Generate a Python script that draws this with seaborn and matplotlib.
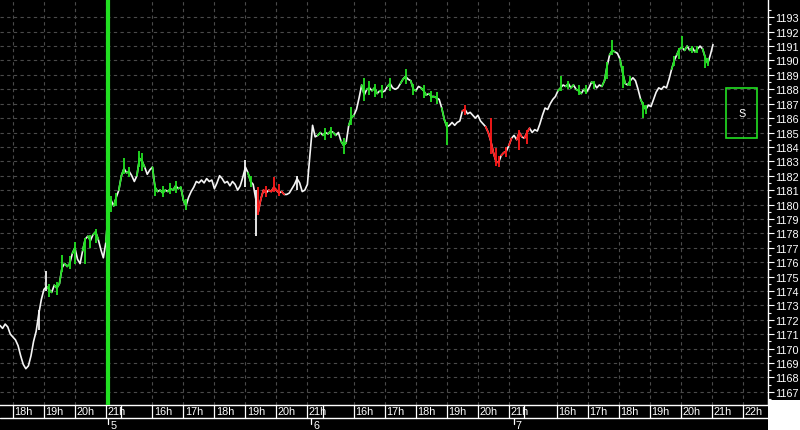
import numpy as np
import pandas as pd
import seaborn as sns
import matplotlib.pyplot as plt
from matplotlib.patches import Rectangle

# closing prices per 5-minute bar, one list per session
day4_close = [1171.6, 1171.4, 1171.7, 1171.5, 1171.0, 1170.8, 1170.6, 1170.2, 1169.5, 1168.9,
              1168.6, 1168.8, 1169.5, 1170.5, 1171.2, 1172.4, 1173.4, 1174.1, 1174.3, 1174.1,
              1173.9, 1174.4, 1174.2, 1174.5, 1175.6, 1175.9, 1175.7, 1175.9, 1176.6, 1177.0,
              1176.2, 1175.9, 1176.8, 1177.6, 1177.8, 1177.5, 1177.9, 1178.1, 1177.6, 1176.9,
              1176.3, 1177.4]
day5_close = [1179.8, 1180.3, 1179.9, 1180.5, 1181.0, 1182.0, 1182.5, 1182.2, 1182.3, 1182.0,
              1181.6, 1182.0, 1183.2, 1183.0, 1182.6, 1182.1, 1182.4, 1182.6, 1181.2, 1180.9,
              1181.0, 1180.8, 1181.0, 1180.9, 1181.1, 1181.0, 1181.3, 1181.1, 1181.2, 1180.3,
              1179.9, 1180.5, 1180.9, 1181.2, 1181.6, 1181.5, 1181.7, 1181.5, 1181.8, 1181.6,
              1181.7, 1181.1, 1181.5, 1182.0, 1181.8, 1181.5, 1181.6, 1181.3, 1181.6, 1181.4,
              1181.0, 1181.3, 1181.9, 1182.6, 1182.2, 1181.6, 1181.4, 1180.4, 1179.5, 1180.4,
              1181.0, 1180.8, 1181.0, 1180.9, 1181.2, 1181.0, 1180.8, 1180.9, 1180.7, 1180.7,
              1180.8, 1181.1, 1181.4, 1181.8, 1181.5, 1180.9, 1181.0, 1181.4]
day6_close = [1183.5, 1185.5, 1184.7, 1184.8, 1185.0, 1184.8, 1185.0, 1184.9, 1185.1, 1185.0,
              1184.8, 1185.0, 1184.4, 1184.1, 1184.3, 1185.5, 1186.0, 1186.2, 1186.6, 1187.4,
              1188.3, 1187.6, 1188.0, 1188.1, 1187.9, 1188.1, 1187.7, 1187.9, 1187.8, 1187.9,
              1188.2, 1188.4, 1188.1, 1188.0, 1188.1, 1188.4, 1188.7, 1188.9, 1188.7, 1188.6,
              1188.0, 1187.9, 1188.2, 1188.1, 1187.9, 1187.6, 1187.7, 1187.5, 1187.5, 1187.4,
              1187.3, 1186.7, 1185.9, 1185.4, 1185.5, 1185.7, 1185.5, 1185.7, 1185.8, 1186.5,
              1186.6, 1186.3, 1186.4, 1186.2, 1186.0, 1186.2, 1185.8, 1185.6, 1185.4, 1185.0,
              1184.4, 1183.6, 1183.0, 1182.9, 1183.4, 1183.6, 1183.7, 1184.1]
day7_close = [1184.6, 1184.8, 1184.5, 1185.0, 1184.7, 1184.6, 1185.0, 1185.3, 1185.0, 1185.2,
              1185.1, 1185.6, 1186.2, 1186.7, 1186.6, 1187.0, 1187.3, 1187.5, 1187.9, 1188.1,
              1188.3, 1188.2, 1188.4, 1188.1, 1188.3, 1188.0, 1187.9, 1187.7, 1188.0, 1187.8,
              1188.1, 1188.5, 1188.4, 1188.1, 1188.3, 1188.2, 1188.6, 1189.6, 1190.4, 1190.7,
              1190.6, 1190.5, 1190.1, 1189.2, 1188.4, 1188.3, 1188.6, 1188.8, 1188.6, 1188.0,
              1187.3, 1186.9, 1186.6, 1186.9, 1186.8, 1187.3, 1187.8, 1188.1, 1188.0, 1188.2,
              1188.1, 1188.7, 1189.4, 1190.0, 1190.4, 1190.8, 1190.9, 1190.7, 1191.0, 1190.7,
              1190.9, 1190.6, 1190.8, 1191.0, 1190.8, 1190.2, 1189.8, 1190.4, 1191.1]

# bars flagged by the indicator
green_bars = [19, 20, 22, 23, 24, 26, 27, 29, 33, 35, 37, 38,
              42, 43, 45, 47, 48, 50, 54, 55, 56, 60, 61, 63, 64, 66, 67, 68, 70, 71, 72, 97,
              124, 126, 128, 130, 133, 134, 136, 137, 141, 143, 145, 146, 148, 151, 156, 157,
              160, 161, 164, 165, 167, 168, 169, 172, 173,
              217, 220, 222, 224, 225, 227, 230, 234, 235, 237, 238, 241, 242, 244, 249, 250,
              261, 263, 264, 266, 268, 270, 273, 274]
red_bars = [100, 101, 102, 103, 105, 106, 107, 108, 110,
            180, 189, 190, 191, 192, 193, 195, 196, 198, 201, 202, 204, 205]

# high/low range of the visible spikes
spike_bar = [15, 18, 19, 22, 24, 27, 29, 33, 35, 37,
             43, 45, 48, 50, 54, 55, 60, 63, 66, 68, 72, 95, 97, 99, 100, 103, 106, 108, 115,
             126, 128, 133, 136, 141, 143, 145, 148, 151, 157, 160, 164, 167, 169, 173,
             180, 190, 192, 193, 196, 201, 204,
             217, 220, 224, 227, 230, 235, 237, 241, 244, 249, 250, 261, 263, 264, 268, 270, 273, 274]
spike_lo = [1171.3, 1174.0, 1173.6, 1173.7, 1175.3, 1175.5, 1175.9, 1175.9, 1177.0, 1177.3,
            1179.5, 1179.9, 1182.1, 1181.9, 1182.6, 1182.3, 1180.6, 1180.5, 1180.7, 1180.8, 1179.6,
            1181.2, 1181.2, 1177.8, 1179.3, 1180.5, 1180.9, 1180.6, 1181.0,
            1184.5, 1184.6, 1183.5, 1185.5, 1187.2, 1187.6, 1187.5, 1187.4, 1187.9, 1188.4, 1187.6,
            1187.4, 1187.1, 1187.0, 1184.1,
            1186.2, 1183.5, 1182.7, 1182.6, 1183.3, 1183.8, 1184.2,
            1187.9, 1188.0, 1187.6, 1187.7, 1188.0, 1188.7, 1190.4, 1188.1, 1188.2, 1186.0, 1186.3,
            1189.6, 1190.1, 1190.8, 1190.5, 1190.5, 1189.5, 1189.6]
spike_hi = [1172.7, 1175.4, 1174.5, 1174.6, 1176.5, 1176.4, 1177.4, 1177.7, 1177.9, 1178.3,
            1180.6, 1180.8, 1183.2, 1182.6, 1183.7, 1183.6, 1181.4, 1181.3, 1181.5, 1181.6, 1180.4,
            1183.1, 1182.0, 1181.0, 1181.2, 1181.3, 1181.9, 1181.4, 1182.0,
            1185.3, 1185.4, 1184.6, 1186.8, 1188.8, 1188.6, 1188.4, 1188.3, 1188.8, 1189.4, 1188.4,
            1188.3, 1187.9, 1187.8, 1185.7,
            1186.9, 1186.0, 1183.9, 1183.4, 1184.0, 1185.2, 1185.2,
            1188.9, 1188.6, 1188.3, 1188.3, 1188.6, 1189.9, 1191.4, 1189.6, 1188.9, 1187.1, 1186.9,
            1190.3, 1190.9, 1191.7, 1191.0, 1191.0, 1190.4, 1190.2]

# time axis (bar index of each hour mark)
hour_ticks = [5, 17, 29, 41, 59, 71, 83, 95, 107, 119, 137, 149, 161, 173, 185, 197,
              215.5, 227.5, 239.5, 251.5, 263.5, 275.5, 287.5]
hour_labels = ['18h', '19h', '20h', '21h', '16h', '17h', '18h', '19h', '20h', '21h',
               '16h', '17h', '18h', '19h', '20h', '21h', '16h', '17h', '18h', '19h', '20h', '21h', '22h']
day_ticks = [42, 120.5, 199]
day_labels = ['5', '6', '7']
signal_bar = 42

GREEN = '#22e022'
RED = '#ff1a1a'
WHITE = '#f4f4f4'
pal = {'g': GREEN, 'r': RED, 'w': WHITE}
FS = 7.8

close = day4_close + day5_close + day6_close + day7_close
bars = np.arange(len(close))
df = pd.DataFrame({'bar': bars, 'price': close})

def bar_color(b):
    if b in green_bars:
        return 'g'
    if b in red_bars:
        return 'r'
    return 'w'

# colored segments ending on a flagged bar
rows = []
for b in green_bars + red_bars:
    for k in (b - 1, b):
        rows.append({'seg': b, 'bar': k, 'price': close[k], 'color': bar_color(b)})
seg_df = pd.DataFrame(rows)

sns.set_style('dark')
plt.rcParams['font.family'] = ['Liberation Sans', 'DejaVu Sans']

fig = plt.figure(figsize=(8, 4.31), dpi=100, facecolor='black')
ax = fig.add_axes([0, 25 / 431, 768 / 800, 406 / 431])
ax.set_facecolor('black')

ax.set_xlim(0, 297.3)
ax.set_ylim(1166.08, 1194.27)

# grid
ax.set_yticks(np.arange(1167, 1194))
ax.set_yticks(np.arange(1166.5, 1194.5, 1), minor=True)
ax.set_xticks(hour_ticks)
ax.grid(True, axis='both', which='major', color='#4a4a4a', linestyle=(0, (3, 3)), linewidth=0.8)
ax.set_axisbelow(True)

sns.lineplot(data=df, x='bar', y='price', color=WHITE, lw=1.2, ax=ax, legend=False)
sns.lineplot(data=seg_df, x='bar', y='price', units='seg', hue='color', palette=pal,
             estimator=None, sort=False, lw=1.2, ax=ax, legend=False)
ax.vlines(spike_bar, spike_lo, spike_hi, colors=[pal[bar_color(b)] for b in spike_bar], lw=1.3)

ax.axvline(signal_bar, color=GREEN, lw=3, zorder=5)

# signal box
ax.add_patch(Rectangle((281.1, 1184.62), 12, 3.47, fill=False, edgecolor=GREEN, lw=1.2))
ax.text(287.1, 1186.35, 'S', color='white', fontsize=FS, ha='center', va='center')

# right price axis
ax.yaxis.tick_right()
ax.tick_params(axis='y', which='major', colors='white', length=4.5, width=0.8, pad=1, labelsize=FS)
ax.tick_params(axis='y', which='minor', colors='white', length=2.2, width=0.8)
ax.tick_params(axis='x', length=0, labelbottom=False)
ax.set_xlabel('')
ax.set_ylabel('')
for side in ['top', 'left']:
    ax.spines[side].set_visible(False)
for side in ['right', 'bottom']:
    ax.spines[side].set_color('white')
    ax.spines[side].set_linewidth(1.0)

# time label strip under the plot
tr = ax.get_xaxis_transform()
strip = -13 / 406
ax.plot([0, 297.3], [strip, strip], color='white', lw=1.0, transform=tr, clip_on=False)
for i, (t, lab) in enumerate(zip(hour_ticks, hour_labels)):
    ax.plot([t, t], [0, strip], color='white', lw=0.9, transform=tr, clip_on=False)
    ax.text(t + 0.6, strip / 2, lab, color='white', fontsize=FS, ha='left', va='center',
            transform=tr, clip_on=False)
    if lab == '21h' and i < len(hour_ticks) - 3:
        ax.plot([t + 6, t + 6], [0, strip], color='white', lw=0.9, transform=tr, clip_on=False)
for d, lab in zip(day_ticks, day_labels):
    ax.plot([d, d], [strip, strip - 6 / 406], color='white', lw=0.9, transform=tr, clip_on=False)
    ax.text(d + 0.7, -20 / 406, lab, color='white', fontsize=FS, ha='left', va='center',
            transform=tr, clip_on=False)

fig.patches.append(Rectangle((768 / 800, 0), 32 / 800, 30 / 431, transform=fig.transFigure,
                             facecolor='white', edgecolor='none'))

fig.savefig('out.png', dpi=100, facecolor='black')
